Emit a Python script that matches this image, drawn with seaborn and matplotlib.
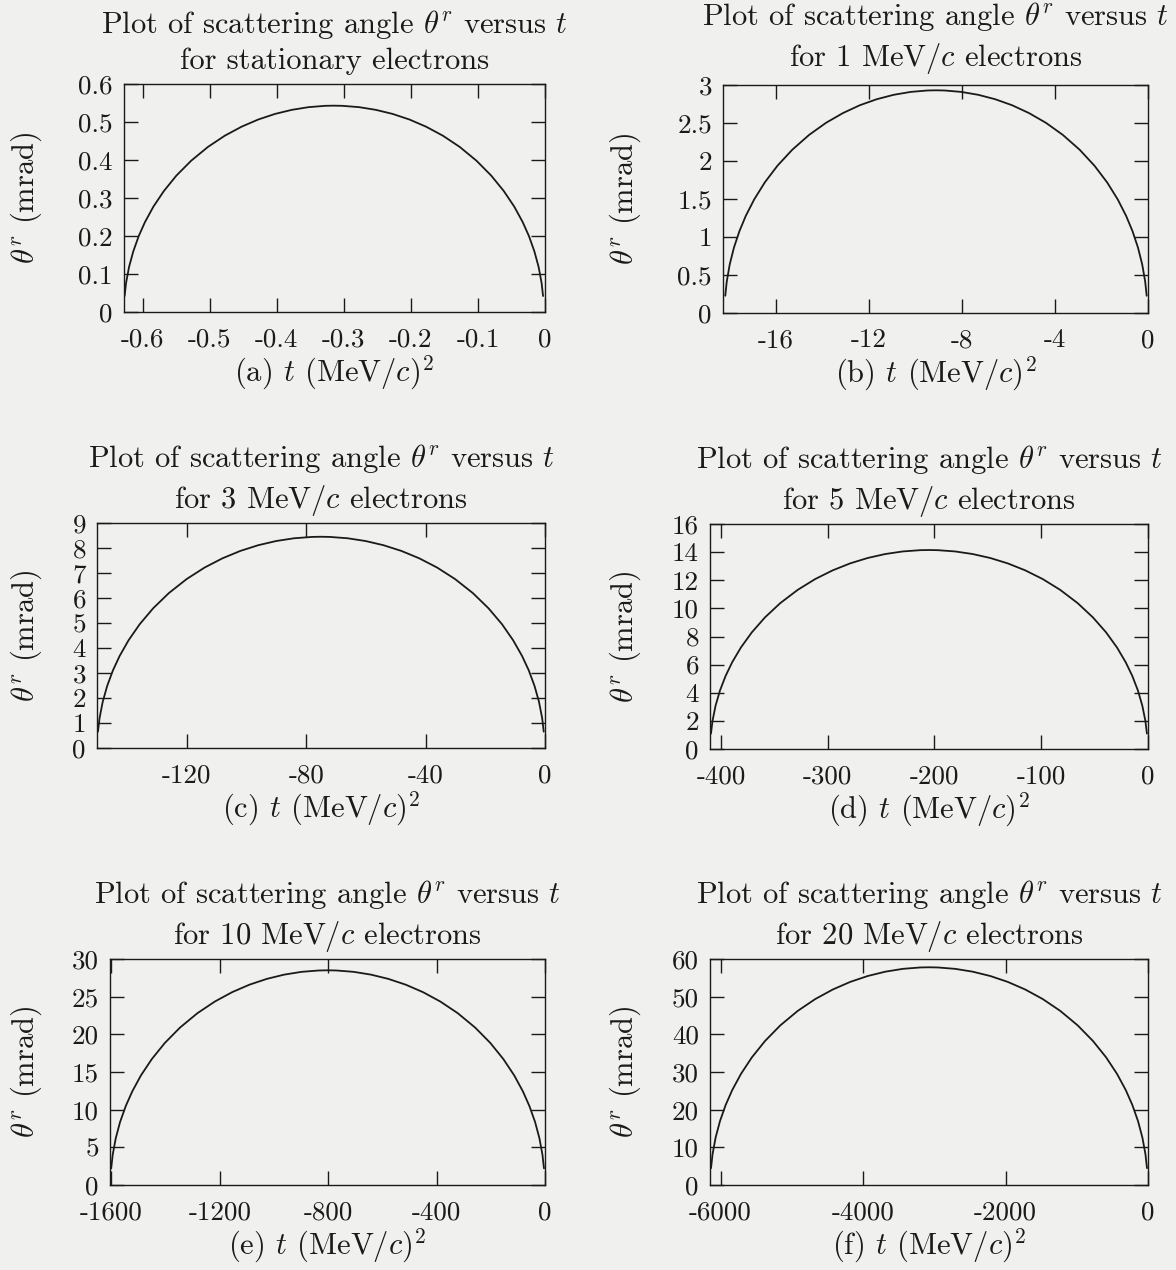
import numpy as np
import pandas as pd
import matplotlib
matplotlib.use('Agg')
import matplotlib.pyplot as plt
import seaborn as sns
from matplotlib.ticker import FormatStrFormatter, MultipleLocator

# values
momenta = ['stationary', '1 MeV/$c$', '3 MeV/$c$', '5 MeV/$c$', '10 MeV/$c$', '20 MeV/$c$']
letters = ['a', 'b', 'c', 'd', 'e', 'f']

t_a = [-0.6271, -0.6249, -0.6205, -0.6142, -0.6061, -0.5967, -0.5842, -0.5685, -0.5498,
       -0.5278, -0.5028, -0.4778, -0.4527, -0.4277, -0.4026, -0.3776, -0.3526, -0.3275,
       -0.3150, -0.3025, -0.2774, -0.2524, -0.2274, -0.2023, -0.1773, -0.1522, -0.1272,
       -0.1022, -0.0803, -0.0615, -0.0458, -0.0333, -0.0239, -0.0158, -0.0095, -0.0051, -0.0029]
th_a = [0.042, 0.0766, 0.1183, 0.1593, 0.1996, 0.2367, 0.2771, 0.3184, 0.3591, 0.3981,
        0.4344, 0.4638, 0.4876, 0.5066, 0.5213, 0.5320, 0.5391, 0.5426, 0.543,
        0.5426, 0.5391, 0.5320, 0.5213, 0.5066, 0.4876, 0.4638, 0.4344, 0.3981, 0.3591,
        0.3184, 0.2771, 0.2367, 0.1996, 0.1593, 0.1183, 0.0766, 0.042]

t_b = [-18.173, -18.109, -17.982, -17.800, -17.564, -17.292, -16.928, -16.474, -15.929,
       -15.293, -14.566, -13.839, -13.112, -12.386, -11.659, -10.932, -10.205, -9.478,
       -9.115, -8.752, -8.025, -7.298, -6.571, -5.844, -5.118, -4.391, -3.664,
       -2.937, -2.301, -1.756, -1.302, -0.939, -0.666, -0.430, -0.248, -0.121, -0.057]
th_b = [0.227, 0.413, 0.638, 0.860, 1.077, 1.277, 1.495, 1.718, 1.938, 2.148,
        2.344, 2.503, 2.631, 2.734, 2.813, 2.871, 2.909, 2.928, 2.930,
        2.928, 2.909, 2.871, 2.813, 2.734, 2.631, 2.503, 2.344, 2.148, 1.938,
        1.718, 1.495, 1.277, 1.077, 0.860, 0.638, 0.413, 0.227]

t_c = [-149.78, -149.25, -148.20, -146.70, -144.76, -142.51, -139.51, -135.77, -131.28,
       -126.03, -120.04, -114.05, -108.06, -102.06, -96.07, -90.08, -84.09, -78.10,
       -75.10, -72.10, -66.11, -60.12, -54.13, -48.14, -42.14, -36.15, -30.16,
       -24.17, -18.93, -14.43, -10.69, -7.69, -5.44, -3.50, -2.00, -0.95, -0.43]
th_c = [0.654, 1.192, 1.840, 2.479, 3.106, 3.683, 4.312, 4.955, 5.589, 6.196,
        6.760, 7.218, 7.588, 7.884, 8.112, 8.279, 8.389, 8.443, 8.450,
        8.443, 8.389, 8.279, 8.112, 7.884, 7.588, 7.218, 6.760, 6.196, 5.589,
        4.955, 4.312, 3.683, 3.106, 2.479, 1.840, 1.192, 0.654]

t_d = [-409.39, -407.95, -405.09, -400.99, -395.66, -389.52, -381.33, -371.09, -358.80,
       -344.46, -328.08, -311.70, -295.31, -278.93, -262.54, -246.16, -229.78, -213.39,
       -205.20, -197.01, -180.62, -164.24, -147.86, -131.47, -115.09, -98.70, -82.32,
       -65.94, -51.60, -39.31, -29.07, -20.88, -14.74, -9.41, -5.32, -2.45, -1.01]
th_d = [1.095, 1.997, 3.082, 4.152, 5.202, 6.168, 7.221, 8.298, 9.359, 10.375,
        11.320, 12.087, 12.707, 13.202, 13.584, 13.864, 14.048, 14.139, 14.150,
        14.139, 14.048, 13.864, 13.584, 13.202, 12.707, 12.087, 11.320, 10.375, 9.359,
        8.298, 7.221, 6.168, 5.202, 4.152, 3.082, 1.997, 1.095]

t_e = [-1600.6, -1595.0, -1583.8, -1567.8, -1546.9, -1522.9, -1490.9, -1450.8, -1402.8,
       -1346.7, -1282.7, -1218.6, -1154.6, -1090.5, -1026.4, -962.4, -898.3, -834.2,
       -802.2, -770.2, -706.1, -642.0, -578.0, -513.9, -449.8, -385.8, -321.7,
       -257.7, -201.6, -153.6, -113.5, -81.5, -57.5, -36.6, -20.6, -9.4, -3.8]
th_e = [2.206, 4.021, 6.207, 8.362, 10.477, 12.423, 14.544, 16.712, 18.850, 20.896,
        22.800, 24.345, 25.593, 26.591, 27.360, 27.924, 28.295, 28.477, 28.500,
        28.477, 28.295, 27.924, 27.360, 26.591, 25.593, 24.345, 22.800, 20.896, 18.850,
        16.712, 14.544, 12.423, 10.477, 8.362, 6.207, 4.021, 2.206]

t_f = [-6135.8, -6114.3, -6071.3, -6009.9, -5930.1, -5838.0, -5715.2, -5561.7, -5377.5,
       -5162.6, -4917.0, -4671.4, -4425.8, -4180.2, -3934.6, -3689.0, -3443.4, -3197.8,
       -3075.0, -2952.2, -2706.6, -2461.0, -2215.4, -1969.8, -1724.2, -1478.6, -1233.0,
       -987.4, -772.5, -588.3, -434.8, -312.0, -219.9, -140.1, -78.7, -35.7, -14.2]
th_f = [4.474, 8.156, 12.589, 16.959, 21.247, 25.195, 29.495, 33.894, 38.229, 42.379,
        46.240, 49.373, 51.904, 53.927, 55.488, 56.632, 57.384, 57.754, 57.800,
        57.754, 57.384, 56.632, 55.488, 53.927, 51.904, 49.373, 46.240, 42.379, 38.229,
        33.894, 29.495, 25.195, 21.247, 16.959, 12.589, 8.156, 4.474]

t_all = [t_a, t_b, t_c, t_d, t_e, t_f]
th_all = [th_a, th_b, th_c, th_d, th_e, th_f]

# axis ranges and tick steps
x_min = [-0.628, -18.27, -150.1, -410.3, -1605, -6150]
y_max = [0.6, 3, 9, 16, 30, 60]
x_step = [0.1, 4, 40, 100, 400, 2000]
y_step = [0.1, 0.5, 1, 2, 5, 10]

# axes boxes in pixels (left, top, right, bottom), ylabel offsets, title pads
boxes = [(124, 84, 545, 312), (723, 85, 1148, 313),
         (97, 523, 545, 748), (710, 524, 1148, 749),
         (110, 959, 545, 1185), (710, 959, 1148, 1185)]
ylab_x = [-0.190, -0.188, -0.118, -0.153, -0.152, -0.153]
title_pad = [11, 14, 11, 11, 11, 11]

W, H = 1176, 1270
bg = '#f0f0ee'
ink = '#1a1a1a'

sns.set_theme(style='ticks')
plt.rcParams['font.family'] = ['cmr10', 'DejaVu Serif']
plt.rcParams['mathtext.fontset'] = 'cm'
plt.rcParams['axes.unicode_minus'] = False
plt.rcParams['axes.formatter.use_mathtext'] = True

fig = plt.figure(figsize=(W / 100, H / 100), dpi=100, facecolor=bg)

for i in range(6):
    l, t, r, b = boxes[i]
    ax = fig.add_axes([l / W, 1 - b / H, (r - l) / W, (b - t) / H])
    ax.set_facecolor(bg)

    df = pd.DataFrame({'t': t_all[i], 'theta': th_all[i]})
    sns.lineplot(data=df, x='t', y='theta', ax=ax, color=ink, linewidth=1.3,
                 sort=False, estimator=None)

    ax.set_xlim(x_min[i], 0)
    ax.set_ylim(0, y_max[i])
    ax.xaxis.set_major_locator(MultipleLocator(x_step[i]))
    ax.yaxis.set_major_locator(MultipleLocator(y_step[i]))
    ax.xaxis.set_major_formatter(FormatStrFormatter('%g'))
    ax.yaxis.set_major_formatter(FormatStrFormatter('%g'))
    ax.tick_params(direction='in', length=10, width=1, top=True, right=True,
                   labelsize=19.5, colors=ink)
    ax.tick_params(axis='x', pad=11)
    ax.tick_params(axis='y', pad=8)
    for s in ax.spines.values():
        s.set_linewidth(1.0)
        s.set_color(ink)

    if i == 0:
        second = 'for stationary electrons'
    else:
        second = 'for ' + momenta[i] + ' electrons'
    ax.set_title(r'Plot of scattering angle $\theta^r$ versus $t$' + '\n' + second,
                 fontsize=22, pad=title_pad[i], linespacing=1.3, color=ink)
    ax.set_xlabel('(' + letters[i] + r') $t$ (MeV/$c)^2$', fontsize=22, labelpad=2,
                  color=ink)
    ax.set_ylabel(r'$\theta^r$ (mrad)', fontsize=22, color=ink)
    ax.yaxis.set_label_coords(ylab_x[i], 0.5)
    ax.grid(False)

fig.savefig('out.png', dpi=100, facecolor=bg)
